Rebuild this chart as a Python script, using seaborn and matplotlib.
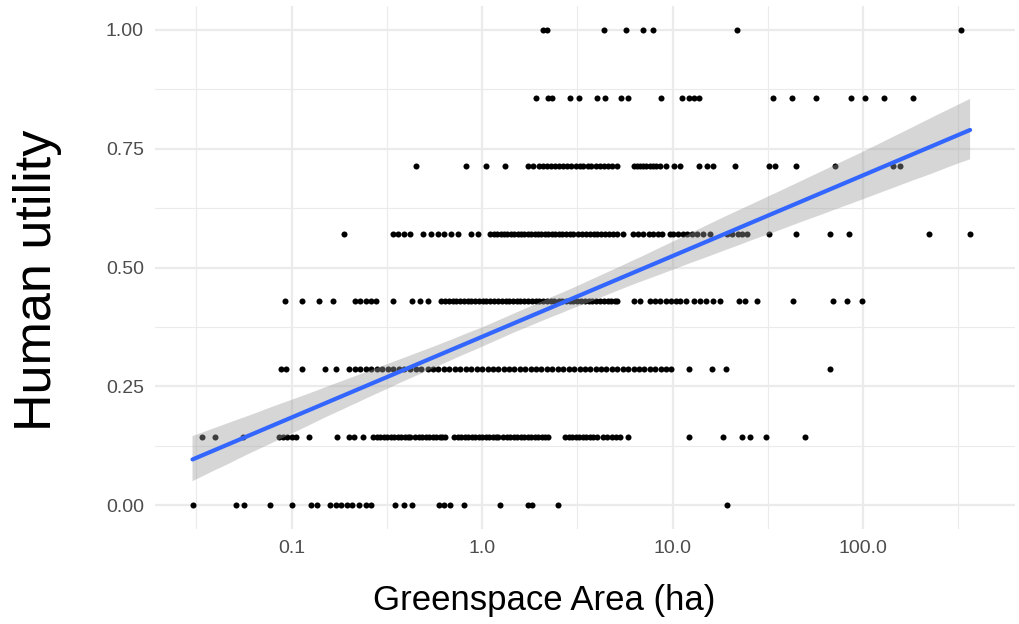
import numpy as np
import pandas as pd
import matplotlib
matplotlib.use("Agg")
import matplotlib.pyplot as plt
import seaborn as sns
from matplotlib.collections import PolyCollection

# greenspace area (ha) for each human utility level
area_u0 = [0.0302, 0.051, 0.0562, 0.077, 0.1, 0.127, 0.136, 0.16, 0.171, 0.182,
           0.195, 0.208, 0.225, 0.245, 0.262, 0.351, 0.387, 0.427, 0.593, 0.632,
           0.676, 0.806, 1.24, 1.74, 1.82, 2.5, 19.4]
area_u1 = [0.034, 0.0398, 0.0555, 0.086, 0.09, 0.095, 0.1, 0.105, 0.123, 0.173,
           0.2, 0.212, 0.237, 0.268, 0.28, 0.292, 0.305, 0.318, 0.332, 0.346,
           0.361, 0.377, 0.393, 0.41, 0.419, 0.445, 0.465, 0.485, 0.506, 0.528,
           0.551, 0.575, 0.6, 0.617, 0.64, 0.713, 0.744, 0.776, 0.81, 0.845,
           0.882, 0.92, 0.96, 1.0, 1.044, 1.09, 1.137, 1.186, 1.21, 1.29, 1.346,
           1.405, 1.466, 1.53, 1.596, 1.666, 1.738, 1.814, 1.893, 1.975, 2.06,
           2.15, 2.22, 2.73, 2.85, 2.97, 3.1, 3.24, 3.38, 3.53, 3.68, 3.84, 4.0,
           4.3, 4.55, 4.8, 5.05, 5.3, 5.84, 12.25, 18.4, 23.1, 25.5, 31.0, 49.7]
area_u2 = [0.0878, 0.0937, 0.114, 0.15, 0.171, 0.2, 0.215, 0.23, 0.245, 0.26,
           0.28, 0.3, 0.32, 0.34, 0.365, 0.39, 0.42, 0.45, 0.48, 0.52, 0.55, 0.59,
           0.63, 0.67, 0.72, 0.77, 0.82, 0.88, 0.94, 1.0, 1.07, 1.14, 1.22, 1.3,
           1.39, 1.48, 1.58, 1.69, 1.8, 1.92, 2.05, 2.19, 2.34, 2.5, 2.67, 2.85,
           3.04, 3.25, 3.47, 3.7, 3.95, 4.22, 4.5, 4.8, 5.13, 5.48, 5.85, 6.25,
           6.67, 7.12, 7.6, 8.1, 8.65, 9.25, 9.87, 12.25, 16.1, 19.0, 66.7]
area_u3 = [0.092, 0.114, 0.139, 0.166, 0.215, 0.23, 0.245, 0.262, 0.279, 0.34,
           0.427, 0.471, 0.52, 0.61, 0.64, 0.67, 0.7, 0.73, 0.77, 0.8, 0.84, 0.88,
           0.92, 0.96, 1.01, 1.05, 1.1, 1.16, 1.21, 1.27, 1.33, 1.39, 1.45, 1.52,
           1.59, 1.67, 1.74, 1.83, 1.91, 2.0, 2.1, 2.19, 2.3, 2.4, 2.52, 2.63,
           2.76, 2.89, 3.02, 3.17, 3.31, 3.47, 3.63, 3.8, 3.98, 4.17, 4.36, 4.57,
           4.78, 5.0, 5.13, 6.24, 6.76, 7.6, 8.1, 8.6, 9.2, 9.8, 10.4, 11.0, 11.7,
           13.0, 13.9, 15.0, 16.4, 17.8, 22.3, 23.9, 27.7, 43.0, 69.3, 82.8, 98.6]
area_u4 = [0.189, 0.34, 0.363, 0.387, 0.42, 0.49, 0.537, 0.585, 0.632, 0.684,
           0.745, 0.87, 0.95, 1.1, 1.15, 1.2, 1.25, 1.3, 1.36, 1.42, 1.48, 1.54,
           1.6, 1.67, 1.74, 1.81, 1.89, 1.97, 2.05, 2.14, 2.23, 2.33, 2.43, 2.53,
           2.64, 2.76, 2.88, 3.0, 3.19, 3.35, 3.5, 3.67, 3.85, 4.03, 4.22, 4.42,
           4.64, 4.86, 5.1, 5.5, 6.2, 6.6, 7.0, 7.5, 7.9, 8.4, 8.8, 9.7, 10.1,
           10.7, 11.3, 11.9, 12.6, 13.4, 14.5, 15.7, 19.3, 20.5, 22.0, 23.3, 24.6,
           32.0, 44.5, 67.0, 84.0, 223.0, 365.0]
area_u5 = [0.45, 0.82, 1.05, 1.32, 1.74, 1.86, 1.99, 2.1, 2.19, 2.3, 2.42, 2.55,
           2.67, 2.8, 2.94, 3.1, 3.25, 3.4, 3.58, 3.75, 3.95, 4.15, 4.36, 4.6,
           4.81, 5.13, 6.24, 6.5, 6.75, 7.0, 7.3, 7.6, 7.9, 8.2, 8.55, 9.25, 10.2,
           10.9, 13.7, 15.1, 16.4, 21.4, 32.1, 34.7, 44.5, 71.1, 144.0, 156.0]
area_u6 = [1.92, 2.21, 2.34, 2.9, 3.21, 4.0, 4.44, 5.37, 5.85, 8.67, 11.25,
           12.25, 13.0, 13.7, 33.7, 42.4, 56.6, 86.6, 102.6, 129.0, 184.0]
area_u7 = [2.1, 2.2, 4.36, 5.7, 7.0, 7.9, 21.9, 327.0]

utility_levels = [0, 1/7, 2/7, 3/7, 4/7, 5/7, 6/7, 1]
areas = [area_u0, area_u1, area_u2, area_u3, area_u4, area_u5, area_u6, area_u7]

x_ticks = [0.1, 1.0, 10.0, 100.0]
x_ticklabels = ["0.1", "1.0", "10.0", "100.0"]
y_ticks = [0.0, 0.25, 0.5, 0.75, 1.0]
y_ticklabels = ["0.00", "0.25", "0.50", "0.75", "1.00"]

rows = []
for lvl, vals in zip(utility_levels, areas):
    for v in vals:
        rows.append({"area": v, "utility": lvl})
df = pd.DataFrame(rows)
# ggplot style log10 scale: transform first, then fit
df["log_area"] = np.log10(df["area"])

sns.set_theme(style="white")
plt.rcParams["font.family"] = ["Liberation Sans", "DejaVu Sans"]

fig = plt.figure(figsize=(10.19, 6.24), dpi=100)
ax = fig.add_axes([155 / 1019, 95 / 624, 860 / 1019, 523 / 624])

# grid (major + minor, theme_minimal look)
for v in [-1.5, -0.5, 0.5, 1.5, 2.5]:
    ax.axvline(v, color="#EBEBEB", lw=0.8, zorder=0)
for v in [0.125, 0.375, 0.625, 0.875]:
    ax.axhline(v, color="#EBEBEB", lw=0.8, zorder=0)
for v in np.log10(x_ticks):
    ax.axvline(v, color="#EBEBEB", lw=1.6, zorder=0)
for v in y_ticks:
    ax.axhline(v, color="#EBEBEB", lw=1.6, zorder=0)

sns.scatterplot(data=df, x="log_area", y="utility", color="black", s=19,
                linewidth=0, ax=ax, zorder=2)
sns.regplot(data=df, x="log_area", y="utility", scatter=False, ci=95,
            seed=1, color="#3366FF", line_kws={"lw": 3, "zorder": 4}, ax=ax)

# recolour the confidence band to ggplot grey
for coll in ax.collections:
    if isinstance(coll, PolyCollection):
        coll.set_facecolor("#999999")
        coll.set_alpha(0.4)
        coll.set_edgecolor("none")
        coll.set_zorder(3)

ax.set_xlim(-1.717, 2.798)
ax.set_ylim(-0.05, 1.05)
ax.set_xticks(np.log10(x_ticks))
ax.set_xticklabels(x_ticklabels, color="#4D4D4D", fontsize=14)
ax.set_yticks(y_ticks)
ax.set_yticklabels(y_ticklabels, color="#4D4D4D", fontsize=14)
ax.tick_params(length=0, pad=8)
for s in ax.spines.values():
    s.set_visible(False)

ax.set_xlabel("Greenspace Area (ha)", fontsize=25, color="black")
ax.set_ylabel("Human utility", fontsize=37.5, color="black")
ax.xaxis.set_label_coords(0.453, -0.105)
ax.yaxis.set_label_coords(-0.108, 0.476)

fig.savefig("out.png", dpi=100)
